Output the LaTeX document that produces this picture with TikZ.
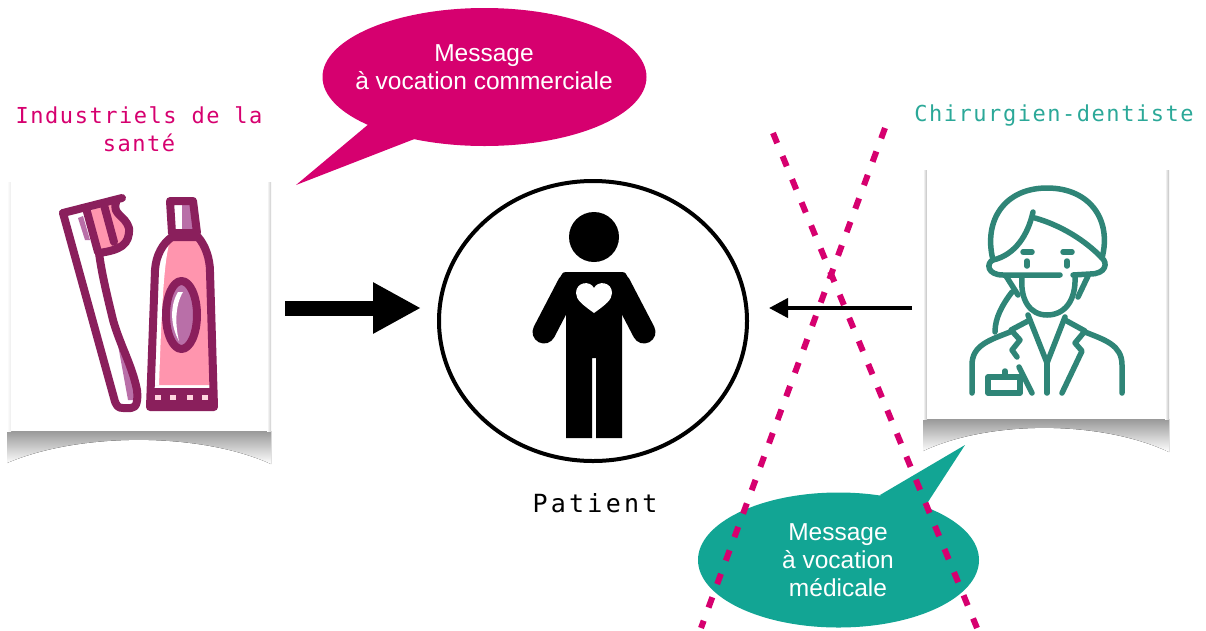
\documentclass[tikz,border=0pt]{standalone}
\usepackage{fontspec}
\setmainfont{Liberation Sans}
\newfontfamily\monolabel[LetterSpace=7]{DejaVu Sans Mono}
\newfontfamily\monopatient[LetterSpace=13]{DejaVu Sans Mono}
\usetikzlibrary{shapes.geometric,arrows.meta}
\definecolor{rose}{HTML}{D6006F}
\definecolor{turquoise}{HTML}{12A594}
\definecolor{labelteal}{HTML}{2BA898}
\definecolor{brushline}{HTML}{8A1F5C}
\definecolor{brushpink}{HTML}{FF95AE}
\definecolor{brushshade}{HTML}{B96FA8}
\definecolor{docline}{HTML}{2F8577}
\tikzset{
  card/.style={rectangle,fill=white,inner sep=0pt},
  bubble/.style={ellipse,inner sep=0pt},
  msgtext/.style={white,align=center,font=\fontsize{24.5}{28}\selectfont},
  brush/.style={draw=brushline,line width=8pt,line join=round,line cap=round},
  doc/.style={draw=docline,line width=5.5pt,line join=round,line cap=round},
  cross/.style={rose,line width=6pt,dash pattern=on 11pt off 14pt},
}
\begin{document}
\begin{tikzpicture}[x=1pt,y=-1pt]
\useasboundingbox (0,0) rectangle (1206,630);
%left card
\fill [top color=gray!80,bottom color=white] (7,431) -- (271,431) -- (271,464) .. controls (200,432) and (80,432) .. (7,463) -- cycle;
\fill [left color=white,right color=gray!40] (267,182) rectangle (271,431);
\fill [left color=white,right color=gray!15] (7,182) rectangle (11,431);
\node [card,minimum width=256pt,minimum height=251pt] (cardL) at (139,305.5) {};
%right card
\fill [top color=gray!80,bottom color=white] (923,419) -- (1169,419) -- (1169,452) .. controls (1100,420) and (990,420) .. (923,451) -- cycle;
\fill [left color=white,right color=gray!50] (1165,170) rectangle (1169,419);
\fill [left color=white,right color=gray!50] (923,170) rectangle (927,419);
\node [card,minimum width=238pt,minimum height=251pt] (cardR) at (1046,293.5) {};
%toothbrush
\fill [brushpink] (88,212) -- (113,200) -- (128,225) -- (127,243) -- (98,252) -- cycle;
\fill [brushshade] (78,218) -- (83,216) -- (90,240) -- (85,240) -- cycle;
\fill [brushshade] (118,345) -- (134,385) -- (134,400) -- (128,400) -- cycle;
\draw [brush] (63,213) -- (122,198);
\draw [brush] (63,213) -- (114,398) .. controls (116,406) and (118,408) .. (123,408) -- (131,408) .. controls (137,408) and (138,400) .. (137,390) .. controls (132,365) and (120,345) .. (113,320) .. controls (107,295) and (102,275) .. (99,253);
\draw [brush] (99,253) .. controls (120,250) and (130,245) .. (129,228) .. controls (125,215) and (112,215) .. (116,202);
\draw [brush] (86,208) -- (98,252);
\draw [brush] (104,205) -- (114,242);
%tube
\fill [brushshade] (177,203) rectangle (193,232);
\fill [white] (173,205) rectangle (182,232);
\fill [brushpink] (172,237) -- (198,237) .. controls (205,245) and (210,258) .. (210,272) -- (213,385) -- (151,385) -- (155,270) .. controls (156,255) and (163,243) .. (172,237) -- cycle;
\fill [white] (156,268) .. controls (158,255) and (164,245) .. (170,240) .. controls (164,262) and (162,300) .. (159,385) -- (151,385) -- cycle;
\draw [brush] (172,233) -- (170,201) -- (193,201) -- (197,233) -- cycle;
\draw [brush] (172,237) -- (198,237) .. controls (205,245) and (210,258) .. (210,272) -- (214,407) -- (150,407) -- (155,270) .. controls (156,255) and (163,243) .. (172,237) -- cycle;
\fill [brushline] (150,388) rectangle (214,407);
\foreach \x in {158,173,190,205} \fill [white!60!brushpink] (\x-3,395) rectangle (\x+3,400);
\draw [brush,fill=brushshade] (181.5,315) ellipse (15.5pt and 34pt);
\fill [white] (178,292) .. controls (170,305) and (170,325) .. (179,341) .. controls (175,325) and (175,305) .. (183,292) -- cycle;
%dentist
\draw [doc] (993,260) .. controls (983,220) and (1005,188) .. (1047,188) .. controls (1090,188) and (1112,220) .. (1102,258);
\draw [doc] (1033,212) .. controls (1028,235) and (1015,255) .. (993,260) .. controls (986,263) and (987,275) .. (1003,275) -- (1060,275);
\draw [doc] (1035,218) .. controls (1060,225) and (1085,240) .. (1102,258) .. controls (1108,263) and (1106,274) .. (1090,274) -- (1073,275);
\draw [doc] (1023,252) -- (1032,252);
\draw [doc] (1063,252) -- (1072,252);
\draw [doc] (1027,261) -- (1027,266);
\draw [doc] (1067,261) -- (1067,266);
\draw [doc] (1022,277) .. controls (1020,300) and (1030,315) .. (1047,315) .. controls (1065,315) and (1076,300) .. (1075,277);
\draw [doc] (1006,276) -- (1018,295);
\draw [doc] (1088,276) -- (1078,297);
\draw [doc] (1012,292) .. controls (1002,305) and (995,318) .. (995,332);
\draw [doc] (1028,315) -- (1047,363) -- (1065,317);
\draw [doc] (1047,363) -- (1047,393);
\draw [doc] (1028,321) -- (1011,330) -- (1020,340) -- (1012,350) -- (1017,357);
\draw [doc] (1019,367) -- (1032,393);
\draw [doc] (1065,320) -- (1085,331) -- (1075,343) -- (1082,351) -- (1062,393);
\draw [doc] (972,393) -- (972,365) .. controls (972,345) and (990,340) .. (1010,332);
\draw [doc] (1122,393) -- (1122,365) .. controls (1122,345) and (1105,340) .. (1085,332);
\draw [doc] (988,377) rectangle (1020,393);
\draw [doc] (1005,371) -- (1005,377);
%patient
\node [bubble,draw=black,line width=4pt,minimum width=308pt,minimum height=280pt] (patient) at (593,321) {};
\fill [black] (594,237) circle (25);
\fill [black,rounded corners=6pt] (560,272) -- (628,272) -- (622,300) -- (566,300) -- cycle;
\fill [black] (566,285) -- (622,285) -- (622,438) -- (596,438) -- (596,358) -- (592,358) -- (592,438) -- (566,438) -- cycle;
\draw [black,line width=23pt,line cap=round] (569,284) -- (544,332);
\draw [black,line width=23pt,line cap=round] (619,284) -- (644,332);
\fill [white] (594,313) .. controls (583,305) and (576,300) .. (576,293) .. controls (576,282) and (590,280) .. (594,288) .. controls (598,280) and (612,282) .. (612,293) .. controls (612,300) and (605,305) .. (594,313) -- cycle;
%bubbles
\node [bubble,fill=rose,minimum width=324pt,minimum height=138pt] (bubbleC) at (484.5,77) {};
\coordinate (tipC) at (296,185);
\fill [rose] (tipC) -- (370,123) -- (417,138) -- cycle;
\node [msgtext] (msgC) at (484,67) {Message\\à vocation commerciale};
\node [bubble,fill=turquoise,minimum width=281pt,minimum height=135pt] (bubbleM) at (838.5,560) {};
\coordinate (tipM) at (965,445);
\fill [turquoise] (tipM) -- (880,495) -- (900,520) -- (926,505) -- cycle;
\node [msgtext] (msgM) at (838,560) {Message\\à vocation\\médicale};
%cross
\coordinate (crossA) at (773,133);
\coordinate (crossB) at (977,628);
\coordinate (crossC) at (885,128);
\coordinate (crossD) at (701,628);
\draw [cross] (crossA) -- (crossB);
\draw [cross] (crossC) -- (crossD);
%arrows
\coordinate (tailL) at (285,308);
\coordinate (headL) at (421,308);
\coordinate (tailR) at (912,308);
\coordinate (headR) at (769,308);
\draw [black,line width=15pt,-{Triangle[length=48pt,width=48pt]}] (tailL) -- (headL);
\draw [black,line width=4pt,-{Triangle[length=19pt,width=19pt]}] (tailR) -- (headR);
%labels
\node [rose,align=center,font=\fontsize{22}{28.5}\selectfont\monolabel] (labelL) at (139,129) {Industriels de la\\santé};
\node [labelteal,font=\fontsize{22}{28.5}\selectfont\monolabel] (labelR) at (1054,115) {Chirurgien-dentiste};
\node [black,font=\fontsize{25}{28}\selectfont\monopatient] (labelP) at (595,503) {Patient};
\end{tikzpicture}
\end{document}
